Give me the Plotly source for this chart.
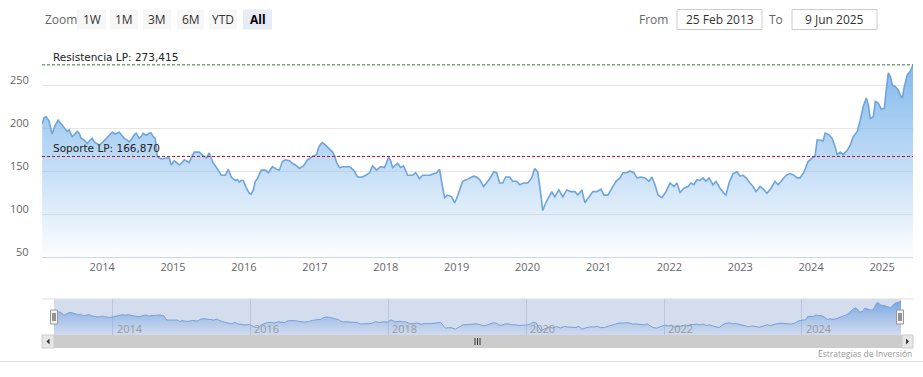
import datetime as dt
import plotly.graph_objects as go

# ---------------- data ----------------
date_decimal = [
    2013.153, 2013.181, 2013.209, 2013.251, 2013.294, 2013.336, 2013.379, 2013.421, 2013.463, 2013.506,
    2013.534, 2013.576, 2013.605, 2013.647, 2013.675, 2013.703, 2013.746, 2013.788, 2013.831, 2013.859,
    2013.887, 2013.915, 2013.958, 2014.014, 2014.056, 2014.099, 2014.141, 2014.184, 2014.212, 2014.240,
    2014.282, 2014.311, 2014.353, 2014.381, 2014.424, 2014.452, 2014.480, 2014.523, 2014.551, 2014.579,
    2014.607, 2014.636, 2014.664, 2014.692, 2014.720, 2014.749, 2014.763, 2014.777, 2014.805, 2014.847,
    2014.890, 2014.946, 2014.975, 2015.017, 2015.045, 2015.088, 2015.130, 2015.158, 2015.201, 2015.229,
    2015.271, 2015.299, 2015.342, 2015.370, 2015.398, 2015.427, 2015.469, 2015.511, 2015.540, 2015.568,
    2015.596, 2015.624, 2015.653, 2015.681, 2015.709, 2015.737, 2015.780, 2015.822, 2015.850, 2015.879,
    2015.907, 2015.935, 2015.963, 2015.992, 2016.020, 2016.048, 2016.076, 2016.104, 2016.133, 2016.161,
    2016.189, 2016.217, 2016.246, 2016.302, 2016.345, 2016.401, 2016.458, 2016.500, 2016.542, 2016.585,
    2016.641, 2016.684, 2016.726, 2016.782, 2016.839, 2016.895, 2016.966, 2017.023, 2017.051, 2017.079,
    2017.107, 2017.150, 2017.192, 2017.249, 2017.277, 2017.305, 2017.347, 2017.404, 2017.489, 2017.545,
    2017.602, 2017.672, 2017.715, 2017.771, 2017.814, 2017.870, 2017.926, 2017.983, 2018.039, 2018.068,
    2018.096, 2018.167, 2018.209, 2018.251, 2018.308, 2018.378, 2018.421, 2018.477, 2018.520, 2018.619,
    2018.717, 2018.760, 2018.802, 2018.830, 2018.873, 2018.929, 2018.972, 2019.000, 2019.042, 2019.085,
    2019.141, 2019.184, 2019.240, 2019.282, 2019.325, 2019.381, 2019.424, 2019.466, 2019.522, 2019.565,
    2019.607, 2019.650, 2019.692, 2019.749, 2019.791, 2019.847, 2019.890, 2019.946, 2020.003, 2020.059,
    2020.102, 2020.144, 2020.186, 2020.215, 2020.257, 2020.299, 2020.342, 2020.384, 2020.441, 2020.497,
    2020.554, 2020.610, 2020.667, 2020.709, 2020.765, 2020.808, 2020.864, 2020.921, 2020.977, 2021.034,
    2021.076, 2021.133, 2021.189, 2021.246, 2021.302, 2021.345, 2021.401, 2021.443, 2021.500, 2021.542,
    2021.599, 2021.655, 2021.712, 2021.754, 2021.797, 2021.839, 2021.895, 2021.952, 2022.008, 2022.065,
    2022.107, 2022.150, 2022.206, 2022.263, 2022.305, 2022.347, 2022.390, 2022.432, 2022.475, 2022.517,
    2022.559, 2022.616, 2022.658, 2022.715, 2022.771, 2022.799, 2022.842, 2022.898, 2022.955, 2022.997,
    2023.040, 2023.082, 2023.138, 2023.181, 2023.223, 2023.280, 2023.336, 2023.378, 2023.435, 2023.492,
    2023.534, 2023.590, 2023.647, 2023.703, 2023.760, 2023.802, 2023.845, 2023.901, 2023.958, 2024.014,
    2024.056, 2024.085, 2024.127, 2024.169, 2024.198, 2024.254, 2024.297, 2024.339, 2024.367, 2024.410,
    2024.452, 2024.508, 2024.551, 2024.593, 2024.650, 2024.692, 2024.734, 2024.777, 2024.805, 2024.833,
    2024.876, 2024.904, 2024.946, 2024.989, 2025.031, 2025.059, 2025.087, 2025.116, 2025.144, 2025.186,
    2025.229, 2025.257, 2025.285, 2025.313, 2025.356, 2025.398, 2025.436,
]
price = [
    205, 212, 213, 208, 193, 203, 209, 205, 200, 196,
    198, 190, 192, 196, 194, 188, 186, 182, 186, 188,
    184, 182, 180, 184, 188, 192, 195, 193, 194, 195,
    191, 188, 186, 184, 188, 192, 194, 188, 190, 194,
    192, 192, 194, 194, 190, 188, 178, 167, 165, 164,
    165, 165, 157, 162, 160, 157, 160, 163, 161, 160,
    168, 172, 172, 172, 170, 168, 165, 171, 165, 159,
    156, 153, 149, 145, 145, 145, 152, 143, 141, 139,
    140, 137, 139, 139, 133, 128, 124, 123, 128, 138,
    141, 146, 151, 151, 148, 155, 152, 151, 161, 163,
    162, 159, 157, 153, 156, 163, 167, 169, 177, 181,
    183, 180, 177, 172, 168, 160, 154, 155, 155, 151,
    143, 143, 145, 148, 156, 151, 155, 154, 166, 162,
    154, 159, 154, 156, 145, 145, 148, 141, 145, 145,
    148, 152, 131, 119, 122, 120, 113, 118, 128, 138,
    140, 142, 144, 143, 140, 132, 136, 141, 149, 148,
    136, 136, 143, 143, 138, 138, 134, 136, 136, 142,
    153, 149, 124, 104, 113, 119, 126, 120, 128, 120,
    128, 126, 126, 122, 128, 113, 120, 126, 126, 129,
    122, 122, 130, 138, 142, 148, 148, 150, 148, 142,
    143, 142, 138, 143, 134, 122, 119, 126, 136, 132,
    136, 125, 130, 132, 136, 134, 140, 139, 142, 138,
    142, 134, 138, 130, 124, 122, 136, 147, 149, 144,
    145, 142, 136, 132, 126, 132, 128, 124, 130, 138,
    134, 140, 145, 147, 145, 142, 142, 149, 161, 165,
    167, 186, 186, 185, 194, 192, 188, 178, 169, 172,
    169, 174, 180, 190, 196, 209, 225, 235, 227, 211,
    213, 231, 229, 222, 223, 245, 264, 260, 250, 248,
    244, 238, 235, 248, 262, 266, 273.415,
]

support_value = 166.870
resistance_value = 273.415
support_label = "Soporte LP: 166,870"
resistance_label = "Resistencia LP: 273,415"

y_ticks = [50, 100, 150, 200, 250]
x_tick_years = list(range(2014, 2026))
nav_tick_years = [2014, 2016, 2018, 2020, 2022, 2024]
zoom_buttons = ["1W", "1M", "3M", "6M", "YTD", "All"]
from_text = "25 Feb 2013"
to_text = "9 Jun 2025"
start_date = "2013-02-25"
end_date = "2025-06-09"
credit_text = "Estrategias de Inversión"


def dec_to_date(y):
    yr = int(y)
    a = dt.datetime(yr, 1, 1)
    b = dt.datetime(yr + 1, 1, 1)
    return a + (b - a) * (y - yr)


dates = [dec_to_date(v) for v in date_decimal]

W, H = 923, 377


def px(x):
    return x / W


def py(y):
    return 1 - y / H


FONT = "Open Sans, DejaVu Sans, sans-serif"

fig = go.Figure()

# main series
fig.add_trace(go.Scatter(
    x=dates, y=price, mode="lines",
    line=dict(color="#6ea5dc", width=1.6),
    fill="tozeroy",
    fillgradient=dict(type="vertical", start=50, stop=275,
                      colorscale=[[0, "rgba(124,181,236,0.02)"], [1, "rgba(124,181,236,0.95)"]]),
    xaxis="x", yaxis="y", hoverinfo="x+y", showlegend=False,
))

# navigator series
fig.add_trace(go.Scatter(
    x=dates, y=price, mode="lines",
    line=dict(color="#7a9fd6", width=1),
    fill="tozeroy",
    fillgradient=dict(type="vertical", start=80, stop=285,
                      colorscale=[[0, "rgba(124,170,230,0.05)"], [1, "rgba(110,160,225,0.95)"]]),
    xaxis="x2", yaxis="y2", hoverinfo="skip", showlegend=False,
))

shapes = []
annotations = []

# support / resistance lines
shapes.append(dict(type="line", xref="x domain", yref="y", x0=0, x1=1,
                   y0=resistance_value, y1=resistance_value,
                   line=dict(color="#2f7a2f", width=1, dash="3px,2px")))
shapes.append(dict(type="line", xref="x domain", yref="y", x0=0, x1=1,
                   y0=support_value, y1=support_value,
                   line=dict(color="#b01c2e", width=1, dash="3px,2px")))
annotations.append(dict(text=resistance_label, xref="paper", yref="y", x=px(51), y=resistance_value,
                        xanchor="left", yanchor="bottom", yshift=0, showarrow=False,
                        font=dict(family="DejaVu Sans", size=10.5, color="#222")))
annotations.append(dict(text=support_label, xref="paper", yref="y", x=px(51), y=support_value,
                        xanchor="left", yanchor="bottom", yshift=0, showarrow=False,
                        font=dict(family="DejaVu Sans", size=10.5, color="#222")))

# y tick labels (sitting just above grid lines)
for v in y_ticks:
    annotations.append(dict(text=str(v), xref="paper", yref="y", x=px(31), y=v,
                            xanchor="right", yanchor="middle", yshift=6, showarrow=False,
                            font=dict(family=FONT, size=11, color="#666")))

# navigator labels
for yv in nav_tick_years:
    annotations.append(dict(text=str(yv), xref="x2", yref="paper", x=dt.datetime(yv, 1, 1), y=py(328),
                            xanchor="left", yanchor="middle", xshift=2, showarrow=False,
                            font=dict(family=FONT, size=11, color="#9a9a9a")))

# navigator mask and outline
shapes.append(dict(type="rect", xref="paper", yref="paper", x0=px(54), x1=px(901), y0=py(335), y1=py(299),
                   fillcolor="rgba(102,133,194,0.28)", line=dict(width=0), layer="below"))
shapes.append(dict(type="line", xref="paper", yref="paper", x0=px(42), x1=px(913), y0=py(299), y1=py(299),
                   line=dict(color="#dddddd", width=1)))

# handles
for hx in (54, 900):
    shapes.append(dict(type="rect", xref="paper", yref="paper", x0=px(hx - 3.5), x1=px(hx + 3.5),
                       y0=py(324), y1=py(310), fillcolor="#f2f2f2", line=dict(color="#999999", width=1)))
    for dx in (-1, 1):
        shapes.append(dict(type="line", xref="paper", yref="paper", x0=px(hx + dx), x1=px(hx + dx),
                           y0=py(321), y1=py(313), line=dict(color="#333", width=1)))

# scrollbar
shapes.append(dict(type="rect", xref="paper", yref="paper", x0=px(54), x1=px(902), y0=py(348), y1=py(335),
                   fillcolor="#cccccc", line=dict(width=0)))
for bx0, bx1 in ((42, 54), (902, 913)):
    shapes.append(dict(type="rect", xref="paper", yref="paper", x0=px(bx0), x1=px(bx1), y0=py(348),
                       y1=py(335), fillcolor="#e6e6e6", line=dict(color="#cccccc", width=1)))
shapes.append(dict(type="path", xref="paper", yref="paper",
                   path=f"M {px(46.5)} {py(341.5)} L {px(49.5)} {py(338.5)} L {px(49.5)} {py(344.5)} Z",
                   fillcolor="#333", line=dict(width=0)))
shapes.append(dict(type="path", xref="paper", yref="paper",
                   path=f"M {px(909)} {py(341.5)} L {px(906)} {py(338.5)} L {px(906)} {py(344.5)} Z",
                   fillcolor="#333", line=dict(width=0)))
for gx in (475, 477.5, 480):
    shapes.append(dict(type="line", xref="paper", yref="paper", x0=px(gx), x1=px(gx), y0=py(338),
                       y1=py(345), line=dict(color="#333", width=1)))

# bottom separator + credit
shapes.append(dict(type="line", xref="paper", yref="paper", x0=0, x1=1, y0=py(361.5), y1=py(361.5),
                   line=dict(color="#dddddd", width=1)))
annotations.append(dict(text=credit_text, xref="paper", yref="paper", x=px(914), y=py(353),
                        xanchor="right", yanchor="middle", showarrow=False,
                        font=dict(family=FONT, size=8.5, color="#999")))

# range selector
annotations.append(dict(text="Zoom", xref="paper", yref="paper", x=px(43), y=py(19.5),
                        xanchor="left", yanchor="middle", showarrow=False,
                        font=dict(family=FONT, size=12, color="#666")))
btn_x = [(77, 106), (110, 138), (143, 171), (177, 204), (209, 237), (243, 272)]
for (bx0, bx1), label in zip(btn_x, zoom_buttons):
    sel = label == "All"
    shapes.append(dict(type="rect", xref="paper", yref="paper", x0=px(bx0), x1=px(bx1), y0=py(29.5),
                       y1=py(9.5), fillcolor="#e6ebf5" if sel else "#f7f7f7", line=dict(width=0)))
    annotations.append(dict(text=f"<b>{label}</b>" if sel else label, xref="paper", yref="paper",
                            x=px((bx0 + bx1) / 2), y=py(19.5), xanchor="center", yanchor="middle",
                            showarrow=False, font=dict(family=FONT, size=12, color="#000" if sel else "#333")))

# date inputs
annotations.append(dict(text="From", xref="paper", yref="paper", x=px(670), y=py(19.5),
                        xanchor="right", yanchor="middle", showarrow=False,
                        font=dict(family=FONT, size=12, color="#666")))
annotations.append(dict(text="To", xref="paper", yref="paper", x=px(785), y=py(19.5),
                        xanchor="right", yanchor="middle", showarrow=False,
                        font=dict(family=FONT, size=12, color="#666")))
for (bx0, bx1), txt in (((677, 762), from_text), ((792, 877), to_text)):
    shapes.append(dict(type="rect", xref="paper", yref="paper", x0=px(bx0), x1=px(bx1), y0=py(29.5),
                       y1=py(9.5), fillcolor="white", line=dict(color="#cccccc", width=1)))
    annotations.append(dict(text=txt, xref="paper", yref="paper", x=px((bx0 + bx1) / 2), y=py(19.5),
                            xanchor="center", yanchor="middle", showarrow=False,
                            font=dict(family=FONT, size=12, color="#333")))

fig.update_layout(
    width=W, height=H, autosize=False,
    margin=dict(l=0, r=0, t=0, b=0),
    paper_bgcolor="white", plot_bgcolor="rgba(0,0,0,0)",
    showlegend=False,
    shapes=shapes, annotations=annotations,
    xaxis=dict(domain=[px(42), px(913)], type="date", range=[start_date, end_date],
               tickvals=[dt.datetime(y, 1, 1) for y in x_tick_years],
               ticktext=[str(y) for y in x_tick_years],
               showgrid=False, zeroline=False, showline=True, linecolor="#ccd6eb", linewidth=1,
               ticks="", tickfont=dict(family=FONT, size=11, color="#666"), anchor="y",
               fixedrange=True),
    yaxis=dict(domain=[py(257), py(42)], range=[50, 300], tickvals=[50, 100, 150, 200, 250, 300],
               showticklabels=False, showgrid=True, gridcolor="#e6e6e6", gridwidth=1,
               zeroline=False, anchor="x", fixedrange=True),
    xaxis2=dict(domain=[px(54), px(901)], type="date", range=[start_date, end_date],
                tickvals=[dt.datetime(y, 1, 1) for y in nav_tick_years],
                showticklabels=False, showgrid=True, gridcolor="rgba(140,150,185,0.35)",
                zeroline=False, showline=False, anchor="y2", fixedrange=True),
    yaxis2=dict(domain=[py(335), py(299)], range=[80, 285], showticklabels=False, showgrid=False,
                zeroline=False, anchor="x2", fixedrange=True),
)

fig.write_html("out.html", config={"displayModeBar": False},
               post_script="document.body.style.margin='0';document.body.style.overflow='hidden';")
